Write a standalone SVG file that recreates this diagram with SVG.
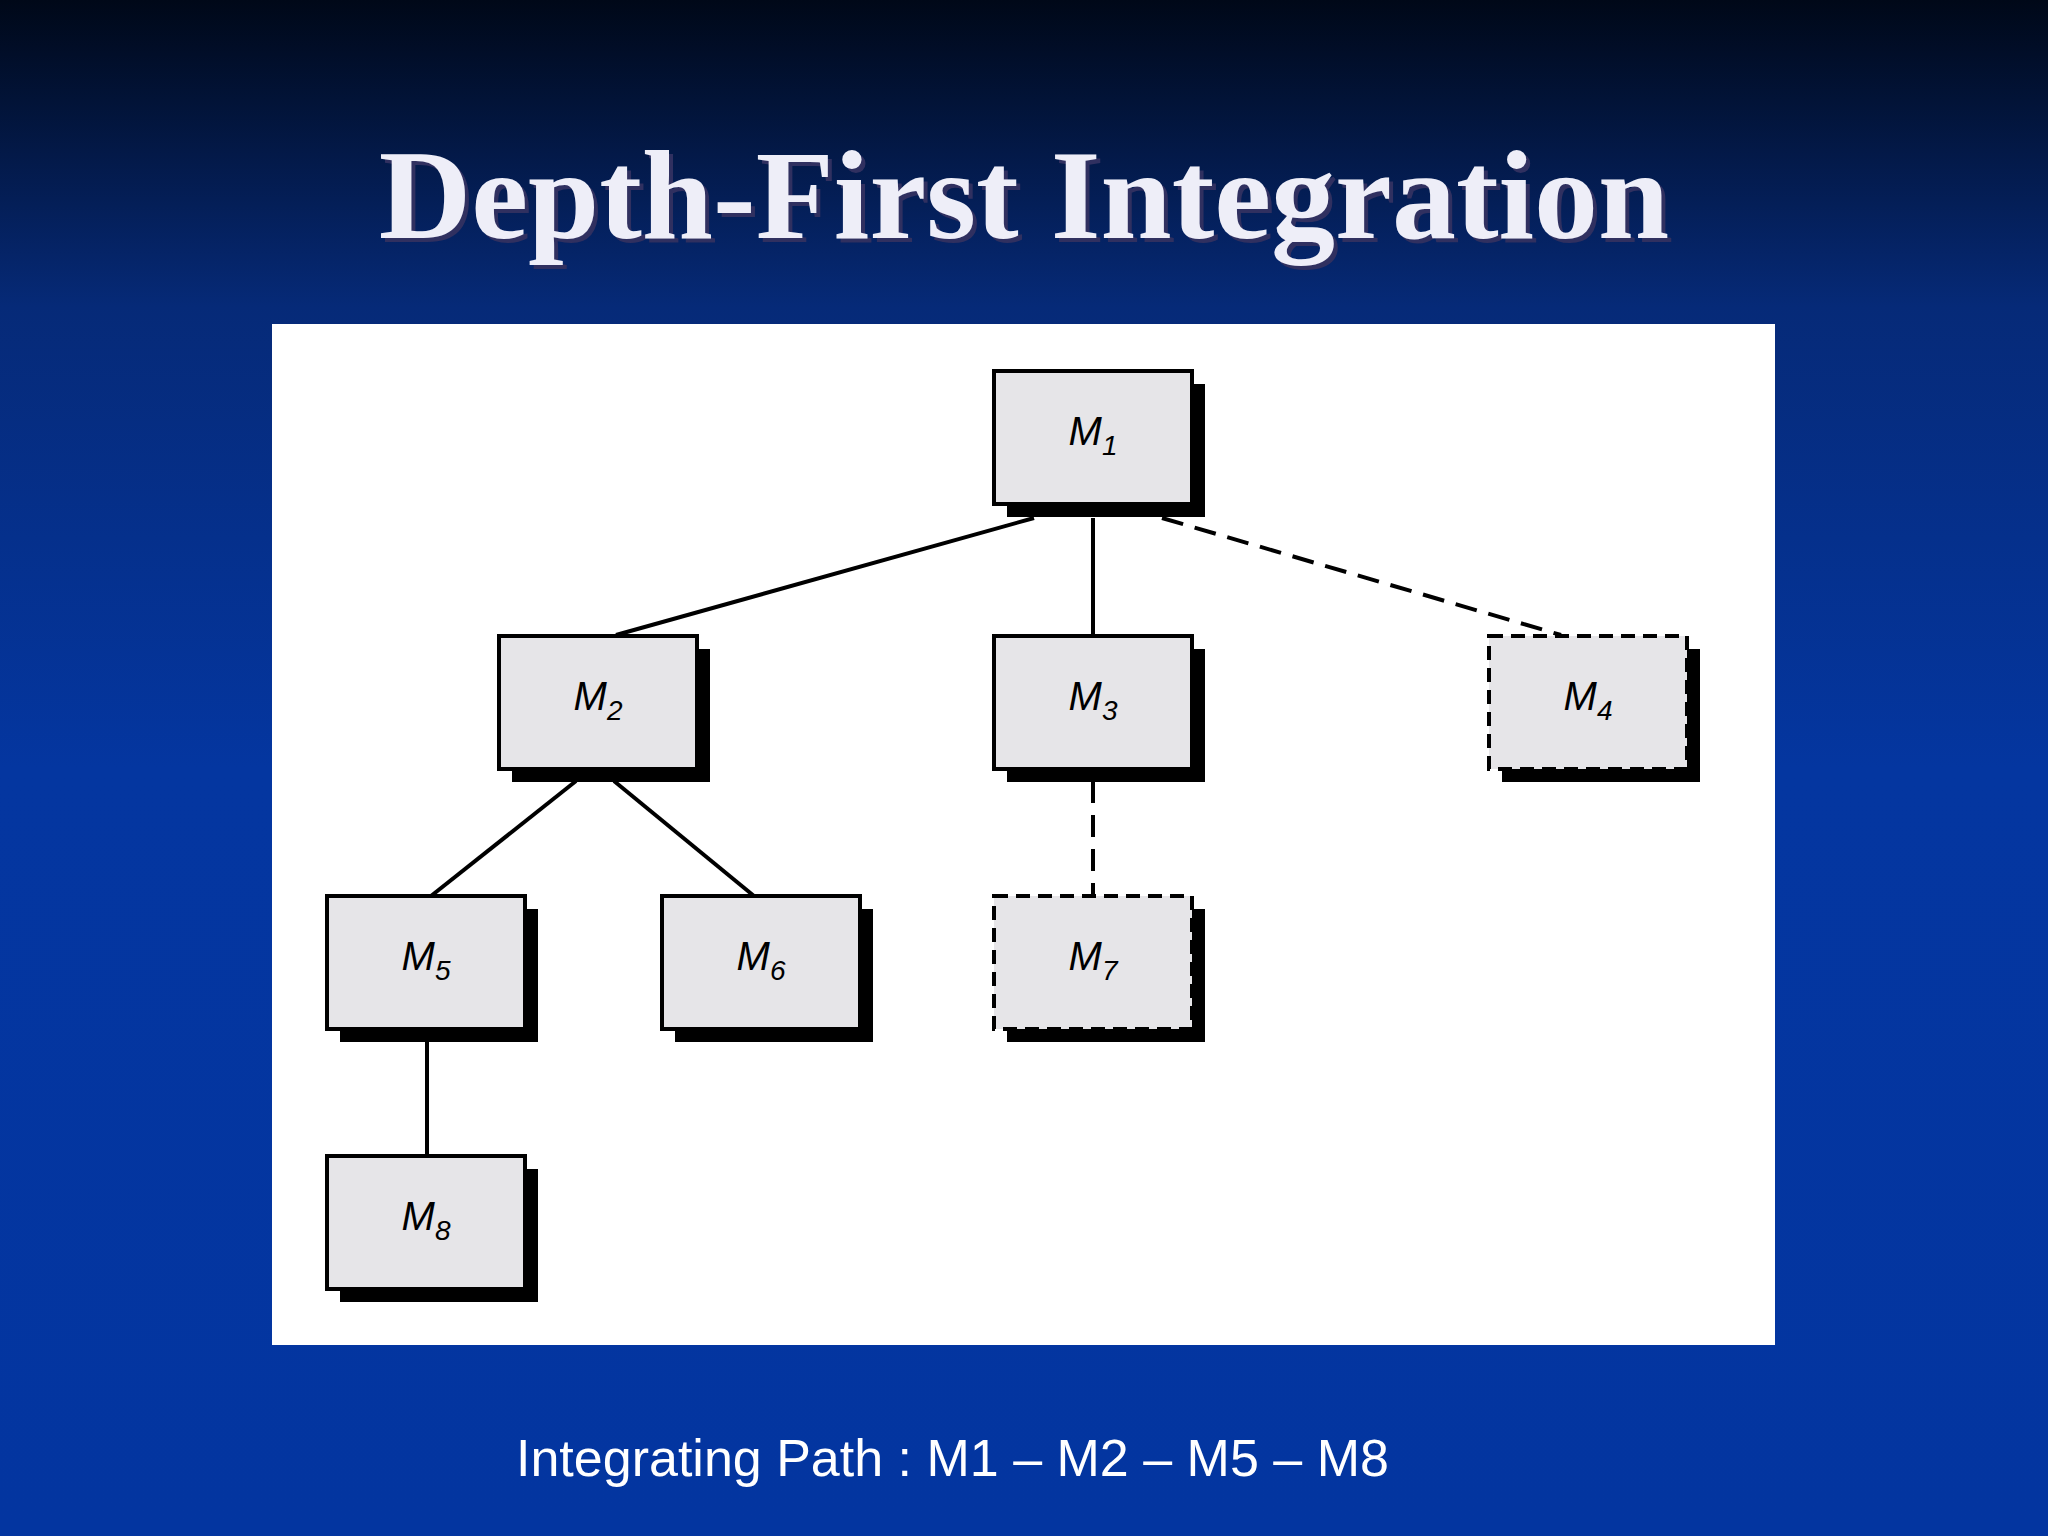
<svg xmlns="http://www.w3.org/2000/svg" width="2048" height="1536" viewBox="0 0 2048 1536">
<defs>
<linearGradient id="bg" x1="0" y1="0" x2="0" y2="1">
<stop offset="0" stop-color="#000818"/>
<stop offset="0.2" stop-color="#062a78"/>
<stop offset="0.5" stop-color="#0436a0"/>
<stop offset="1" stop-color="#0335a0"/>
</linearGradient>
<style>
.sh{fill:#000}
.bx{fill:#e6e5e8;stroke:#000;stroke-width:4}
.dbx{fill:#e6e5e8;stroke:#000;stroke-width:4;stroke-dasharray:14 8}
.lb{font-family:"Liberation Sans",Arial,sans-serif;font-style:italic;font-size:40px;fill:#000;text-anchor:middle}
.ln{stroke:#000;stroke-width:4;fill:none}
.dl{stroke:#000;stroke-width:4;fill:none;stroke-dasharray:22 12}
</style>
</defs>
<rect width="2048" height="1536" fill="url(#bg)"/>
<text x="1028" y="242" font-family="Liberation Serif,serif" font-weight="bold" font-size="128" fill="#303060" text-anchor="middle">Depth-First Integration</text>
<text x="1024" y="238" font-family="Liberation Serif,serif" font-weight="bold" font-size="128" fill="#eeeef8" text-anchor="middle">Depth-First Integration</text>
<rect x="272" y="324" width="1503" height="1021" fill="#fff"/>
<g id="connectors">
<line class="ln" x1="1034" y1="518" x2="616" y2="635"/>
<line class="ln" x1="1093" y1="518" x2="1093" y2="635"/>
<line class="dl" x1="1162" y1="518" x2="1561" y2="635"/>
<line class="ln" x1="576" y1="781" x2="431" y2="896"/>
<line class="ln" x1="614" y1="781" x2="754" y2="896"/>
<line class="dl" x1="1093" y1="781" x2="1093" y2="896"/>
<line class="ln" x1="427" y1="1042" x2="427" y2="1156"/>
</g>
<g id="M1"><rect class="sh" x="1007" y="384" width="198" height="133"/><rect class="bx" x="994" y="371" width="198" height="133"/><text class="lb" x="1093" y="445">M<tspan font-size="28" dy="10">1</tspan></text></g>
<g id="M2"><rect class="sh" x="512" y="649" width="198" height="133"/><rect class="bx" x="499" y="636" width="198" height="133"/><text class="lb" x="598" y="710">M<tspan font-size="28" dy="10">2</tspan></text></g>
<g id="M3"><rect class="sh" x="1007" y="649" width="198" height="133"/><rect class="bx" x="994" y="636" width="198" height="133"/><text class="lb" x="1093" y="710">M<tspan font-size="28" dy="10">3</tspan></text></g>
<g id="M4"><rect class="sh" x="1502" y="649" width="198" height="133"/><rect class="dbx" x="1489" y="636" width="198" height="133"/><text class="lb" x="1588" y="710">M<tspan font-size="28" dy="10">4</tspan></text></g>
<g id="M5"><rect class="sh" x="340" y="909" width="198" height="133"/><rect class="bx" x="327" y="896" width="198" height="133"/><text class="lb" x="426" y="970">M<tspan font-size="28" dy="10">5</tspan></text></g>
<g id="M6"><rect class="sh" x="675" y="909" width="198" height="133"/><rect class="bx" x="662" y="896" width="198" height="133"/><text class="lb" x="761" y="970">M<tspan font-size="28" dy="10">6</tspan></text></g>
<g id="M7"><rect class="sh" x="1007" y="909" width="198" height="133"/><rect class="dbx" x="994" y="896" width="198" height="133"/><text class="lb" x="1093" y="970">M<tspan font-size="28" dy="10">7</tspan></text></g>
<g id="M8"><rect class="sh" x="340" y="1169" width="198" height="133"/><rect class="bx" x="327" y="1156" width="198" height="133"/><text class="lb" x="426" y="1230">M<tspan font-size="28" dy="10">8</tspan></text></g>
<text x="516" y="1476" font-family="Liberation Sans,Arial,sans-serif" font-size="52" fill="#fff">Integrating Path : M1 – M2 – M5 – M8</text>
</svg>
